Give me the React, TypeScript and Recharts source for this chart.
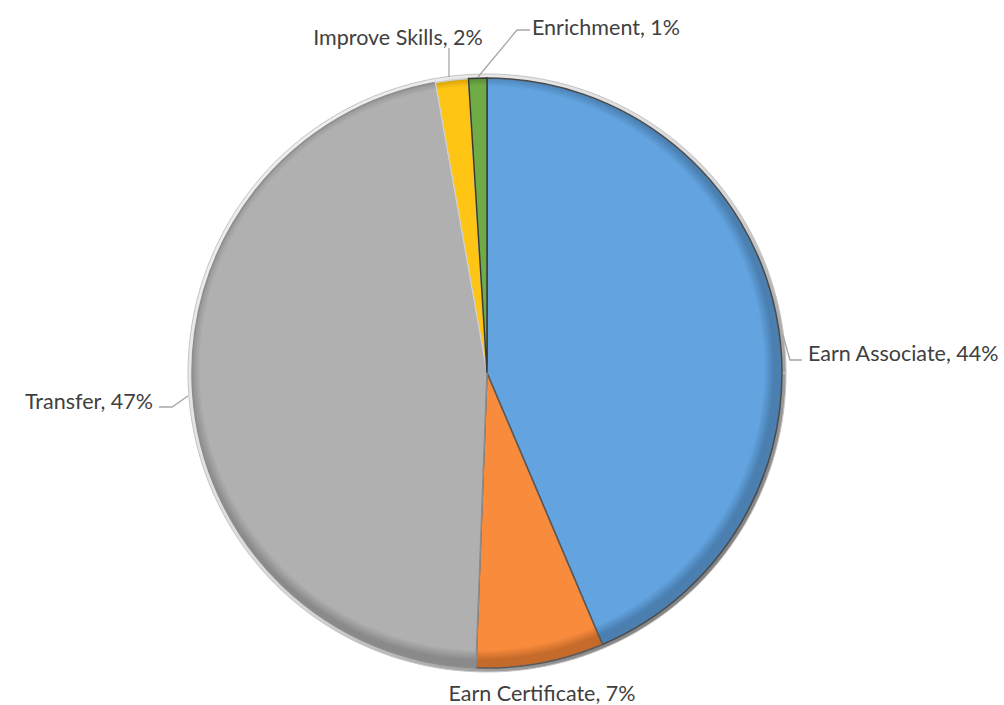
import { Cell, Pie, PieChart } from "recharts";

const CATEGORIES = ["Earn Associate", "Earn Certificate", "Transfer", "Improve Skills", "Enrichment"];
const SHARES = [43.6, 7.0, 46.6, 1.8, 1.0];

const FILLS = ["#62a3e0", "#f98b3c", "#b0b0b0", "#ffc515", "#6fac46"];
const EDGES = ["#4a7fb0", "#c46a2a", "#8a8a8a", "#c79500", "#4f8331"];
const SEAMS = ["#4a4a4a", "#5a5a5a", "#8c8c8c", "#d0d0d0", "#3a3a3a"];
const TEXT = "#404040";
const LEADER = "#a6a6a6";

const data = CATEGORIES.map((name, i) => ({ name, value: SHARES[i] }));

const CX = 482;
const CY = 368;
const R = 295;

// label placement relative to pie centre, the way the original chart laid them out
const LABEL_LAYOUT: Record<string, { dx: number; dy: number; anchor: "start" | "middle" | "end"; leader?: [number, number][] }> = {
  "Earn Associate": { dx: 321, dy: -20, anchor: "start", leader: [[296, -38], [303, -13], [315, -13]] },
  "Earn Certificate": { dx: 55, dy: 320, anchor: "middle" },
  Transfer: { dx: -334, dy: 28, anchor: "end", leader: [[-299, 23], [-315, 34], [-328, 34]] },
  "Improve Skills": { dx: -89, dy: -336, anchor: "middle", leader: [[-38, -296], [-38, -325]] },
  Enrichment: { dx: 45, dy: -346, anchor: "start", leader: [[-9, -296], [30, -343], [43, -343]] },
};

function renderLabel(props: any) {
  const { cx, cy, name, percent } = props;
  const layout = LABEL_LAYOUT[name];
  if (!layout) return null;
  const pts = layout.leader?.map(([x, y]) => `${cx + x},${cy + y}`).join(" ");
  return (
    <g>
      {pts && <polyline points={pts} fill="none" stroke={LEADER} strokeWidth={1.3} />}
      <text
        x={cx + layout.dx}
        y={cy + layout.dy}
        textAnchor={layout.anchor}
        dominantBaseline="central"
        fill={TEXT}
        fontSize={21.5}
        fontFamily="Lato, 'Noto Sans', sans-serif"
      >
        {`${name}, ${Math.round(percent * 100)}%`}
      </text>
    </g>
  );
}

export default function App() {
  return (
    <div style={{ position: "absolute", left: 0, top: 0, width: 1004, height: 705, background: "#fff" }}>
      <PieChart width={1004} height={705}>
        <defs>
          {FILLS.map((c, i) => (
            <radialGradient key={i} id={`bevel${i}`} gradientUnits="userSpaceOnUse" cx={CX} cy={CY} r={R}>
              <stop offset="0%" stopColor={c} />
              <stop offset="95.5%" stopColor={c} />
              <stop offset="99%" stopColor={EDGES[i]} />
              <stop offset="100%" stopColor={EDGES[i]} />
            </radialGradient>
          ))}
          <linearGradient id="rim" x1="0" y1="0" x2="1" y2="1">
            <stop offset="0%" stopColor="#f6f6f6" />
            <stop offset="55%" stopColor="#d6d6d6" />
            <stop offset="100%" stopColor="#5a5a5a" />
          </linearGradient>
        </defs>
        <Pie
          data={[{ name: "rim", value: 1 }]}
          dataKey="value"
          cx={CX}
          cy={CY}
          outerRadius={R + 4}
          fill="url(#rim)"
          stroke="#c4c4c4"
          strokeWidth={1}
          isAnimationActive={false}
          label={false}
          labelLine={false}
        />
        <Pie
          data={data}
          dataKey="value"
          nameKey="name"
          cx={CX}
          cy={CY}
          outerRadius={R}
          startAngle={90}
          endAngle={-270}
          isAnimationActive={false}
          labelLine={false}
          label={renderLabel}
        >
          {data.map((d, i) => (
            <Cell key={d.name} fill={`url(#bevel${i})`} stroke={SEAMS[i]} strokeWidth={1.5} />
          ))}
        </Pie>
      </PieChart>
    </div>
  );
}
